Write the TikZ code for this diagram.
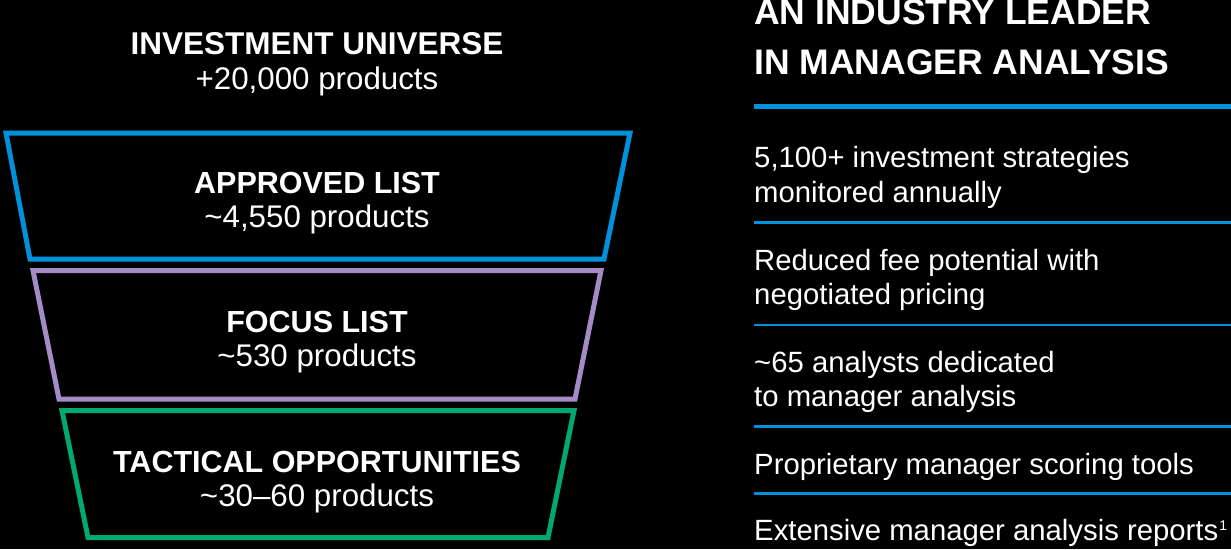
\documentclass[tikz,border=0pt]{standalone}
\usepackage{fontspec}
\setmainfont{Liberation Sans}
\definecolor{fblue}{HTML}{0091DA}
\definecolor{fpurple}{HTML}{A58BC6}
\definecolor{fgreen}{HTML}{00A872}
\tikzset{
  funnel/.style={line width=5pt, line join=miter},
  headb/.style={text=white, inner sep=0pt, anchor=base, font=\fontsize{30.5}{30.5}\selectfont\bfseries},
  subr/.style={text=white, inner sep=0pt, anchor=base, font=\fontsize{31.3}{31.3}\selectfont},
  rtxt/.style={text=white, inner sep=0pt, anchor=base west, font=\fontsize{29.3}{29.3}\selectfont},
  rtitle/.style={text=white, inner sep=0pt, anchor=base west, font=\fontsize{35.5}{35.5}\selectfont\bfseries},
  sepline/.style={fblue, line width=2.6pt},
}
\begin{document}
\begin{tikzpicture}[x=1pt,y=-1pt]
\fill[black] (0,0) rectangle (1231,549);
\useasboundingbox (0,0) rectangle (1231,549);
% funnel
\draw[funnel, fblue] (6,133) -- (630,133) -- (604,259) -- (30,259) -- cycle;
\draw[funnel, fpurple] (33,270.5) -- (601,270.5) -- (575,399) -- (59,399) -- cycle;
\draw[funnel, fgreen] (62,410.5) -- (574,410.5) -- (548,537.5) -- (88,537.5) -- cycle;
% funnel texts
\node[headb, font=\fontsize{31.5}{31.5}\selectfont\bfseries] (iu) at (317,54.5) {INVESTMENT UNIVERSE};
\node[subr] (iun) at (317,89) {+20,000 products};
\node[headb] (al) at (317,193.3) {APPROVED LIST};
\node[subr] (aln) at (317,227) {\textasciitilde 4,550 products};
\node[headb] (fl) at (317,332) {FOCUS LIST};
\node[subr] (fln) at (317,366.5) {\textasciitilde 530 products};
\node[headb] (to) at (317,472) {TACTICAL OPPORTUNITIES};
\node[subr] (ton) at (317,506) {\textasciitilde 30–60 products};
% right side
\node[rtitle] (t1) at (754,24) {AN INDUSTRY LEADER};
\node[rtitle] (t2) at (754,74) {IN MANAGER ANALYSIS};
\coordinate (l0a) at (754,106.5); \coordinate (l0b) at (1231,106.5);
\draw[fblue, line width=5pt] (l0a) -- (l0b);
\node[rtxt] (a1) at (754,167.5) {5,100+ investment strategies};
\node[rtxt] (a2) at (754,202.5) {monitored annually};
\coordinate (l1a) at (754,222.5); \coordinate (l1b) at (1231,222.5);
\draw[sepline] (l1a) -- (l1b);
\node[rtxt] (b1) at (754,270) {Reduced fee potential with};
\node[rtxt] (b2) at (754,304.5) {negotiated pricing};
\coordinate (l2a) at (754,325); \coordinate (l2b) at (1231,325);
\draw[sepline] (l2a) -- (l2b);
\node[rtxt] (c1) at (754,372) {\textasciitilde 65 analysts dedicated};
\node[rtxt] (c2) at (754,406.5) {to manager analysis};
\coordinate (l3a) at (754,426.5); \coordinate (l3b) at (1231,426.5);
\draw[sepline] (l3a) -- (l3b);
\node[rtxt] (d1) at (754,474) {Proprietary manager scoring tools};
\coordinate (l4a) at (754,493.5); \coordinate (l4b) at (1231,493.5);
\draw[sepline] (l4a) -- (l4b);
\node[rtxt] (e1) at (754,540.5) {Extensive manager analysis reports\kern1pt\raisebox{10pt}{\fontsize{14}{14}\selectfont 1}};
\end{tikzpicture}
\end{document}
